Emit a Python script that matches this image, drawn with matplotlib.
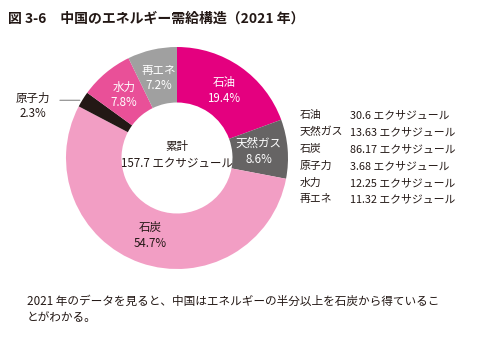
import matplotlib
matplotlib.use("Agg")
import matplotlib.pyplot as plt
import numpy as np

FONT = ['Noto Sans CJK JP', 'DejaVu Sans']
plt.rcParams['font.family'] = FONT

categories = ['石油', '天然ガス', '石炭', '原子力', '水力', '再エネ']
values_ej = [30.6, 13.63, 86.17, 3.68, 12.25, 11.32]
percents = [19.4, 8.6, 54.7, 2.3, 7.8, 7.2]
colors = ['#e4007f', '#666464', '#f29ec4', '#231815', '#e95098', '#a0a0a0']
label_colors = ['white', 'white', '#231815', '#231815', 'white', 'white']
total_label = '157.7'
title = '図 3-6　中国のエネルギー需給構造（2021 年）'
caption = ['2021 年のデータを見ると、中国はエネルギーの半分以上を石炭から得ているこ',
           'とがわかる。']

W, H = 485, 339
fig = plt.figure(figsize=(W / 100, H / 100), dpi=100)

cx, cy, R = 177, 158, 111
ax = fig.add_axes([(cx - R) / W, (H - cy - R) / H, 2 * R / W, 2 * R / H])
ax.axis('off')

wedges, _ = ax.pie(percents, colors=colors, startangle=90, counterclock=False,
                   radius=1.0, wedgeprops=dict(width=0.5, linewidth=0))
ax.set_xlim(-1, 1)
ax.set_ylim(-1, 1)
ax.set_aspect('equal')

for i, w in enumerate(wedges):
    if categories[i] == '原子力':
        continue
    ang = np.deg2rad((w.theta1 + w.theta2) / 2)
    r = 0.74
    x, y = r * np.cos(ang), r * np.sin(ang)
    ax.text(x, y, f'{categories[i]}\n{percents[i]}%', ha='center', va='center',
            fontsize=8.3, color=label_colors[i], linespacing=1.25)

# nuclear outside label with leader line
i = categories.index('原子力')
ax.annotate('', xy=(-0.85, 0.52), xytext=(-1.08, 0.52),
            arrowprops=dict(arrowstyle='-', color='#888888', lw=0.8),
            annotation_clip=False)
fig.text(33 / W, 1 - 106 / H, f'{categories[i]}\n{percents[i]}%', ha='center', va='center',
         fontsize=8.3, color='#231815', linespacing=1.25)

ax.text(0, 0.03, f'累計\n{total_label} エクサジュール', ha='center', va='center',
        fontsize=8.3, color='#231815', linespacing=1.3)

fig.text(8 / W, 1 - 19 / H, title, ha='left', va='center', fontsize=10,
         fontweight='bold', color='#231815')

rows_y = [115, 132, 149, 166, 183, 199]
for cat, v, yy in zip(categories, values_ej, rows_y):
    fig.text(300 / W, 1 - yy / H, cat, ha='left', va='center', fontsize=7.8, color='#231815')
    fig.text(350 / W, 1 - yy / H, f'{v} エクサジュール', ha='left', va='center',
             fontsize=7.8, color='#231815')

fig.text(27 / W, 1 - 301 / H, caption[0], ha='left', va='center', fontsize=8.4, color='#231815')
fig.text(27 / W, 1 - 317 / H, caption[1], ha='left', va='center', fontsize=8.4, color='#231815')

fig.savefig('out.png', dpi=100)
